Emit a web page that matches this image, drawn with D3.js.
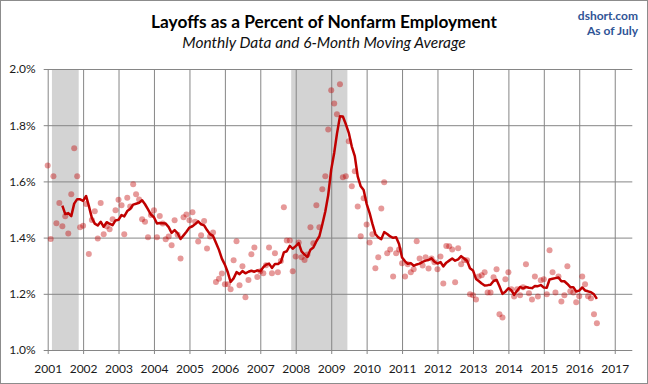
<!DOCTYPE html>
<html><head><meta charset="utf-8">
<script src="https://cdn.jsdelivr.net/npm/d3@7"></script>
<style>
body{margin:0;background:#fff}
svg{display:block}
text{font-family:Lato,"Noto Sans",sans-serif}
</style>
</head><body>
<svg id="chart" width="648" height="384"></svg>
<script>
// ---- data (monthly layoffs as % of nonfarm employment, starting Jan 2001) ----
const startYear = 2001;
const layoffRate = [
  1.657,1.395,1.618,1.451,1.523,1.440,1.476,1.415,1.554,1.718,1.618,1.437,
  1.442,1.520,1.342,1.463,1.494,1.397,1.523,1.412,1.440,1.430,1.465,1.497,
  1.535,1.515,1.412,1.542,1.511,1.590,1.554,1.536,1.465,1.456,1.401,1.480,
  1.497,1.401,1.477,1.450,1.394,1.404,1.373,1.462,1.410,1.326,1.472,1.482,
  1.462,1.490,1.456,1.386,1.408,1.459,1.361,1.404,1.418,1.242,1.254,1.272,
  1.234,1.234,1.216,1.319,1.387,1.230,1.298,1.188,1.249,1.341,1.365,1.260,
  1.280,1.273,1.302,1.365,1.273,1.344,1.277,1.317,1.508,1.390,1.390,1.280,
  1.333,1.383,1.330,1.320,1.340,1.437,1.380,1.515,1.437,1.572,1.618,1.785,
  1.924,1.877,1.839,1.946,1.615,1.618,1.743,1.583,1.636,1.511,1.405,1.540,
  1.447,1.383,1.412,1.291,1.330,1.504,1.597,1.344,1.358,1.262,1.344,1.358,
  1.309,1.262,1.305,1.277,1.287,1.387,1.326,1.301,1.330,1.290,1.326,1.312,
  1.287,1.333,1.237,1.370,1.369,1.358,1.241,1.362,1.305,1.320,1.319,1.198,
  1.195,1.180,1.262,1.266,1.277,1.205,1.205,1.259,1.287,1.127,1.116,1.252,
  1.277,1.216,1.190,1.216,1.195,1.223,1.305,1.202,1.180,1.262,1.190,1.248,
  1.252,1.198,1.355,1.277,1.205,1.262,1.173,1.195,1.298,1.209,1.205,1.170,
  1.191,1.262,1.234,1.191,1.184,1.127,1.095
];
const movingAverageWindow = 6;
const yTickValues = [1.0, 1.2, 1.4, 1.6, 1.8, 2.0];
const xTickYears = [2001,2002,2003,2004,2005,2006,2007,2008,2009,2010,2011,2012,2013,2014,2015,2016,2017];
const recessions = [[2001, 2, 2001, 10], [2007, 11, 2009, 5]]; // [startYear, startMonth0, endYear, endMonth0]
const titleText = "Layoffs as a Percent of Nonfarm Employment";
const subtitleText = "Monthly Data and 6-Month Moving Average";
const sourceText = "dshort.com";
const asOfText = "As of July";

// ---- build ----
(function () {
const monthDate = i => new Date(Date.UTC(startYear, i, 1));
const points = layoffRate.map((v, i) => ({ date: monthDate(i), value: v }));
const maPoints = [];
for (let i = movingAverageWindow - 1; i < layoffRate.length; i++) {
  const w = layoffRate.slice(i - movingAverageWindow + 1, i + 1);
  maPoints.push({ date: monthDate(i), value: d3.mean(w) });
}

const svg = d3.select("#chart");
const pLeft = 47.7, pRight = 632.3, pTop = 69, pBottom = 350;
const x = d3.scaleUtc()
  .domain([new Date(Date.UTC(2001, 0, 1)), new Date(Date.UTC(2017, 6, 1))])
  .range([pLeft, pRight]);
const y = d3.scaleLinear().domain([1.0, 2.0]).range([pBottom, pTop]);

// frame
svg.append("rect").attr("x", 0.5).attr("y", 0.5).attr("width", 647).attr("height", 383)
  .attr("fill", "#fff").attr("stroke", "#8c8c8c");

// recession shading
const halfMonth = (x(monthDate(1)) - x(monthDate(0))) / 2;
svg.append("g").selectAll("rect").data(recessions).join("rect")
  .attr("x", d => x(new Date(Date.UTC(d[0], d[1], 1))) - halfMonth)
  .attr("width", d => x(new Date(Date.UTC(d[2], d[3], 1))) - x(new Date(Date.UTC(d[0], d[1], 1))) + 2 * halfMonth)
  .attr("y", y(2.0)).attr("height", y(1.0) - y(2.0))
  .attr("fill", "#d3d3d3");

// grid / axes
const gridColor = "#868686";
const yAxis = d3.axisLeft(y).tickValues(yTickValues)
  .tickSize(-(pRight - pLeft + 4)).tickSizeOuter(0)
  .tickFormat(d => d.toFixed(1) + "%").tickPadding(8);
const gy = svg.append("g").attr("transform", `translate(${pLeft - 4},0)`).call(yAxis);
gy.select(".domain").remove();
gy.selectAll(".tick line").attr("stroke", gridColor).attr("stroke-width", 1);
gy.selectAll(".tick text").attr("font-size", 12).attr("fill", "#1a1a1a")
  .style("font-family", "Lato, 'Noto Sans', sans-serif");

const xAxis = d3.axisBottom(x)
  .tickValues(xTickYears.map(yr => new Date(Date.UTC(yr, 0, 1))))
  .tickSize(-(pBottom - pTop + 4)).tickSizeOuter(0)
  .tickFormat(d3.utcFormat("%Y")).tickPadding(10);
const gx = svg.append("g").attr("transform", `translate(0,${pBottom + 4})`).call(xAxis);
gx.select(".domain").remove();
gx.selectAll(".tick line").attr("stroke", gridColor).attr("stroke-width", 1);
gx.selectAll(".tick text").attr("font-size", 12).attr("fill", "#1a1a1a")
  .style("font-family", "Lato, 'Noto Sans', sans-serif");

// monthly dots
svg.append("g").selectAll("circle").data(points).join("circle")
  .attr("cx", d => x(d.date)).attr("cy", d => y(d.value)).attr("r", 3)
  .attr("fill", "#c00000").attr("fill-opacity", 0.4);

// moving average line
svg.append("path").datum(maPoints)
  .attr("fill", "none").attr("stroke", "#c00000").attr("stroke-width", 2.5)
  .attr("stroke-linejoin", "round")
  .attr("d", d3.line().x(d => x(d.date)).y(d => y(d.value)));

// titles
svg.append("text").attr("x", 324).attr("y", 28).attr("text-anchor", "middle")
  .attr("font-size", 17.3).attr("font-weight", "bold").attr("fill", "#000").text(titleText);
svg.append("text").attr("x", 324).attr("y", 48).attr("text-anchor", "middle")
  .attr("font-size", 15.5).attr("font-style", "italic").attr("fill", "#111").text(subtitleText);
svg.append("text").attr("x", 638).attr("y", 20).attr("text-anchor", "end")
  .attr("font-size", 12).attr("font-weight", "bold").attr("fill", "#2f5496").text(sourceText);
svg.append("text").attr("x", 638).attr("y", 35).attr("text-anchor", "end")
  .attr("font-size", 12).attr("font-weight", "bold").attr("fill", "#2f5496").text(asOfText);
})();
</script>
</body></html>
